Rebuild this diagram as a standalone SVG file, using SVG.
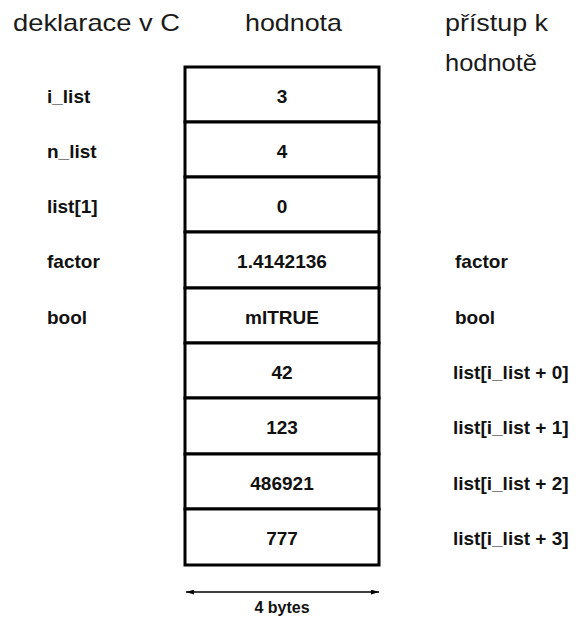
<svg xmlns="http://www.w3.org/2000/svg" width="579" height="617" viewBox="0 0 579 617">
<defs>
<style>
.hdr{font-family:"Liberation Sans",Arial,sans-serif;font-size:24px;fill:#1a1a1a}
.lbl{font-family:"Liberation Sans",Arial,sans-serif;font-size:19px;font-weight:bold;fill:#111}
.val{font-family:"Liberation Sans",Arial,sans-serif;font-size:19px;font-weight:bold;fill:#111;text-anchor:middle}
.cell{fill:#fff;stroke:#000;stroke-width:3}
.dim{stroke:#000;stroke-width:1.5;fill:none}
</style>
<marker id="ah" viewBox="0 0 10 6" refX="10" refY="3" markerWidth="8" markerHeight="5" orient="auto-start-reverse" markerUnits="userSpaceOnUse">
<path d="M0,0 L10,3 L0,6 z" fill="#000"/>
</marker>
</defs>
<rect width="579" height="617" fill="#fff"/>
<g id="headers">
<text class="hdr" x="13" y="31" textLength="167" lengthAdjust="spacingAndGlyphs">deklarace v C</text>
<text class="hdr" x="245" y="31" textLength="97" lengthAdjust="spacingAndGlyphs">hodnota</text>
<text class="hdr" x="445" y="31" textLength="103" lengthAdjust="spacingAndGlyphs">přístup k</text>
<text class="hdr" x="445" y="71" textLength="92" lengthAdjust="spacingAndGlyphs">hodnotě</text>
</g>
<g id="row1"><rect class="cell" x="185" y="67" width="194" height="55"/><text class="lbl" x="47" y="103">i_list</text><text class="val" x="282" y="103">3</text></g>
<g id="row2"><rect class="cell" x="185" y="122" width="194" height="55"/><text class="lbl" x="47" y="158">n_list</text><text class="val" x="282" y="158">4</text></g>
<g id="row3"><rect class="cell" x="185" y="177" width="194" height="55"/><text class="lbl" x="47" y="213">list[1]</text><text class="val" x="282" y="213">0</text></g>
<g id="row4"><rect class="cell" x="185" y="232" width="194" height="56"/><text class="lbl" x="47" y="268">factor</text><text class="val" x="282" y="268">1.4142136</text><text class="lbl" x="455" y="268">factor</text></g>
<g id="row5"><rect class="cell" x="185" y="288" width="194" height="55"/><text class="lbl" x="47" y="324">bool</text><text class="val" x="282" y="324">mITRUE</text><text class="lbl" x="455" y="324">bool</text></g>
<g id="row6"><rect class="cell" x="185" y="343" width="194" height="55"/><text class="val" x="282" y="379">42</text><text class="lbl" x="453" y="379">list[i_list + 0]</text></g>
<g id="row7"><rect class="cell" x="185" y="398" width="194" height="56"/><text class="val" x="282" y="434">123</text><text class="lbl" x="453" y="434">list[i_list + 1]</text></g>
<g id="row8"><rect class="cell" x="185" y="454" width="194" height="55"/><text class="val" x="282" y="490">486921</text><text class="lbl" x="453" y="490">list[i_list + 2]</text></g>
<g id="row9"><rect class="cell" x="185" y="509" width="194" height="56"/><text class="val" x="282" y="545">777</text><text class="lbl" x="453" y="545">list[i_list + 3]</text></g>
<g id="connectors">
<line class="dim" x1="186" y1="592" x2="379" y2="592" marker-start="url(#ah)" marker-end="url(#ah)"/>
</g>
<g id="dimension-label">
<text class="val" x="282" y="613" style="font-size:16px">4 bytes</text>
</g>
</svg>
